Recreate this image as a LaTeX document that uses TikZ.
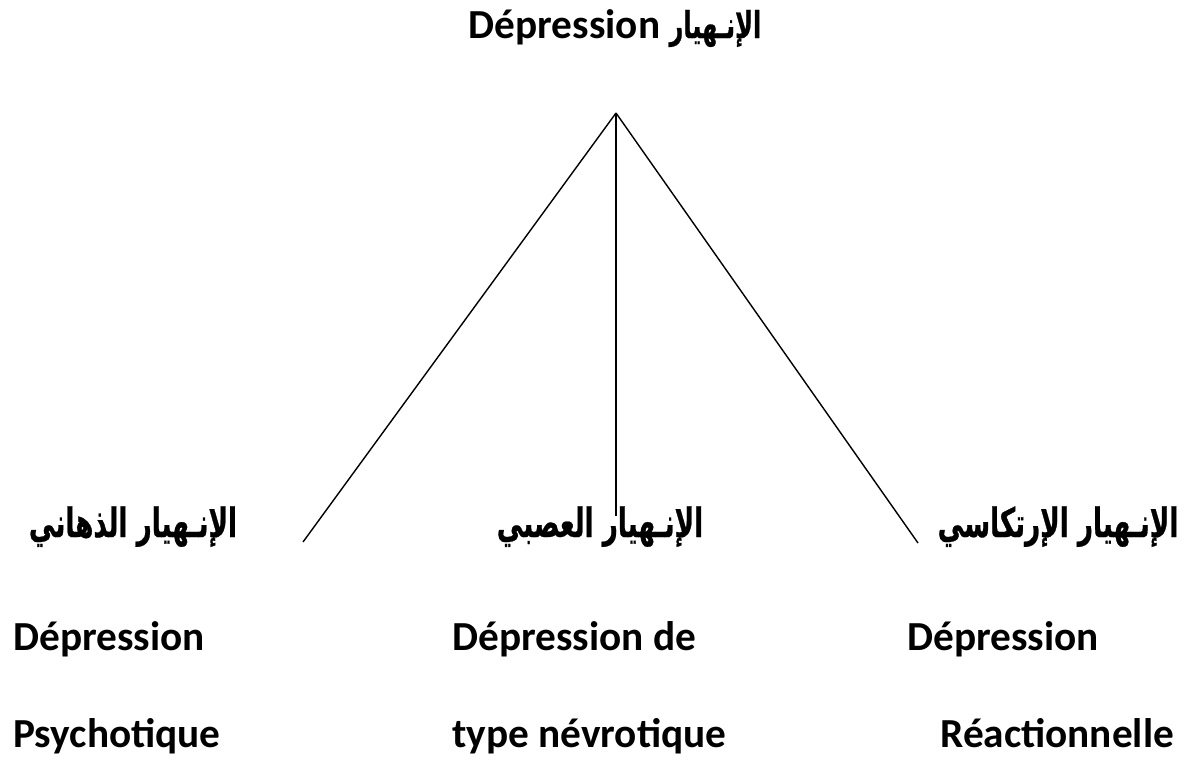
\documentclass[tikz,border=0pt]{standalone}
\usepackage{fontspec}
\setmainfont{Carlito}
\newfontfamily\arabicfont[Script=Arabic, FakeStretch=0.65, BoldFeatures={FakeBold=0.6}]{DejaVu Sans}
\TeXXeTstate=1
\usetikzlibrary{positioning}

\tikzset{
  lat/.style={font=\fontsize{23.5}{28}\selectfont\bfseries, inner sep=0pt, anchor=base west},
  arab/.style={font=\arabicfont\fontsize{23}{28}\selectfont\bfseries, inner sep=0pt, anchor=base},
  branche/.style={line width=0.8pt}
}

\begin{document}
\begin{tikzpicture}[x=0.02cm,y=-0.02cm]
\useasboundingbox (0,0) rectangle (1190,762);
% titre
\node (T) at (615,38) [anchor=base, inner sep=0pt, font=\fontsize{23.5}{28}\selectfont\bfseries]
  {Dépression {\arabicfont\fontsize{21}{24}\selectfont\bfseries\beginR الإنـهيار\endR}};
% sommet et extremites des branches
\coordinate (S) at (616,113);
\coordinate (G) at (303,542);
\coordinate (M) at (616,516);
\coordinate (D) at (918,543);
\draw[branche] (S) -- (G);
\draw[branche] (S) -- (M);
\draw[branche] (S) -- (D);
% noms arabes
\node (A1) at (133,537) [arab] {\beginR الإنـهيار الذهاني\endR};
\node (A2) at (600,537) [arab] {\beginR الإنـهيار العصبي\endR};
\node (A3) at (1058,537) [arab] {\beginR الإنـهيار الإرتكاسي\endR};
% noms francais
\node (F1) at (13,650) [lat] {Dépression};
\node (F2) at (13,747) [lat] {Psychotique};
\node (F3) at (452,650) [lat] {Dépression de};
\node (F4) at (452,747) [lat] {type névrotique};
\node (F5) at (907,650) [lat] {Dépression};
\node (F6) at (940,747) [lat] {Réactionnelle};
\end{tikzpicture}
\end{document}
